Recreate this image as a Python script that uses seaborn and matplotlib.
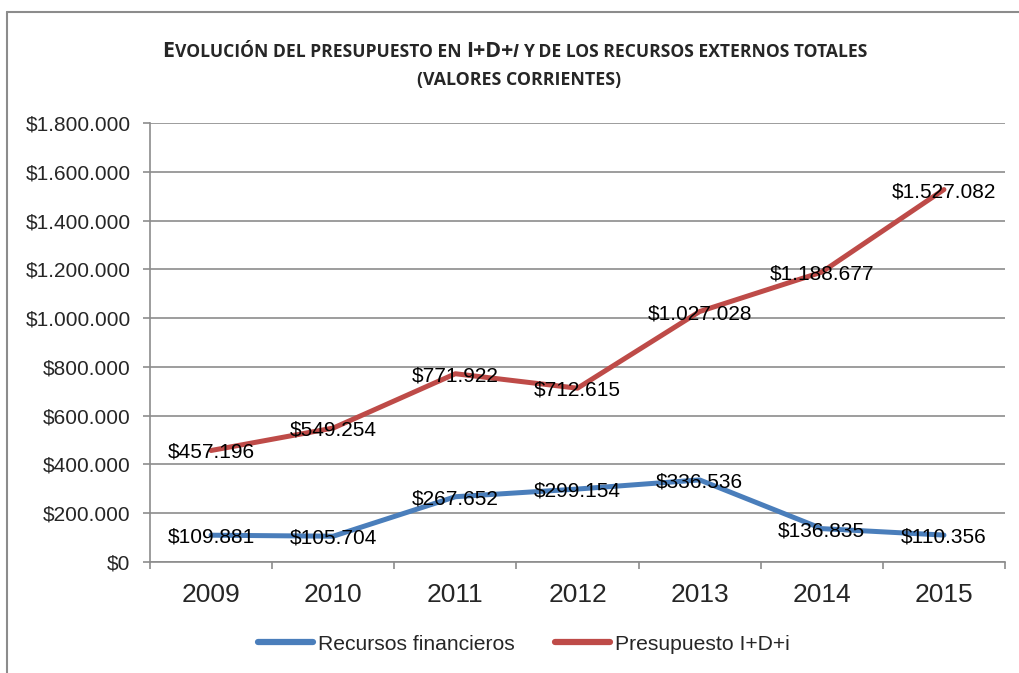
import matplotlib
matplotlib.use("Agg")
import matplotlib.pyplot as plt
import seaborn as sns
import pandas as pd
from matplotlib.lines import Line2D

# ---- data ----
years = ["2009", "2010", "2011", "2012", "2013", "2014", "2015"]
recursos = [109881, 105704, 267652, 299154, 336536, 136835, 110356]
presupuesto = [457196, 549254, 771922, 712615, 1027028, 1188677, 1527082]
series_names = ["Recursos financieros", "Presupuesto I+D+i"]
y_ticks = [0, 200000, 400000, 600000, 800000, 1000000, 1200000, 1400000, 1600000, 1800000]

BLUE = "#4A7EBB"
RED = "#BE4B48"
GRID = "#8C8C8C"

df = pd.DataFrame({
    "Año": years * 2,
    "Valor": recursos + presupuesto,
    "Serie": [series_names[0]] * len(years) + [series_names[1]] * len(years),
})

sns.set_theme(style="white")
plt.rcParams["font.family"] = ["Liberation Sans", "DejaVu Sans"]

W, H = 1019, 673
fig = plt.figure(figsize=(W / 100, H / 100), dpi=100)
ax = fig.add_axes([150 / W, 1 - 562 / H, (1005 - 150) / W, (562 - 123) / H])

sns.lineplot(data=df, x="Año", y="Valor", hue="Serie", hue_order=series_names,
             palette=[BLUE, RED], linewidth=3.6, sort=False, legend=False, ax=ax,
             solid_capstyle="round")


def fmt(v):
    return "$" + f"{v:,}".replace(",", ".")


for vals in (recursos, presupuesto):
    for i, v in enumerate(vals):
        ax.text(i, v, fmt(v), ha="center", va="center_baseline", fontsize=15,
                color="black", zorder=5)

ax.set_xlim(-0.5, len(years) - 0.5)
ax.set_ylim(0, 1800000)
ax.set_yticks(y_ticks)
ax.set_yticklabels([fmt(v) for v in y_ticks], fontsize=15)
ax.set_xticks(range(len(years)))
ax.set_xticklabels(years, fontsize=19)
ax.set_xticks([i - 0.5 for i in range(len(years) + 1)], minor=True)
ax.tick_params(axis="x", which="major", length=0, pad=15)
ax.tick_params(axis="x", which="minor", length=5, width=1.2, color=GRID, direction="out", bottom=True)
ax.tick_params(axis="y", which="major", length=5, width=1.2, color=GRID, direction="out", left=True, pad=9)
ax.set_xlabel("")
ax.set_ylabel("")
ax.grid(axis="y", color=GRID, linewidth=1.2)
ax.grid(axis="x", visible=False)
for s in ("top", "right"):
    ax.spines[s].set_visible(False)
for s in ("left", "bottom"):
    ax.spines[s].set_color(GRID)
    ax.spines[s].set_linewidth(1.2)
ax.set_axisbelow(True)

# legend
handles = [Line2D([], [], color=BLUE, linewidth=4.5, solid_capstyle="round"),
           Line2D([], [], color=RED, linewidth=4.5, solid_capstyle="round")]
fig.legend(handles, series_names, loc="center", bbox_to_anchor=(524 / W, 1 - 644 / H), ncol=2,
           frameon=False, fontsize=15.2, handlelength=2.6, handletextpad=0.24, columnspacing=1.9)

# outer frame (left and top edges)
fig.add_artist(Line2D([7 / W, 1], [1 - 12 / H, 1 - 12 / H], transform=fig.transFigure, color=GRID, lw=1.5))
fig.add_artist(Line2D([7 / W, 7 / W], [1 - 12 / H, 0], transform=fig.transFigure, color=GRID, lw=1.5))

# title in small caps, built from pieces
BIG, SMALL = 15.5, 12.6
TFONT = ["Open Sans", "DejaVu Sans"]
line1 = [("E", BIG, "normal"), ("VOLUCIÓN DEL PRESUPUESTO EN", SMALL, "normal"), (" ", SMALL, "gap"),
         ("I+D+", BIG, "normal"), ("I", SMALL, "italic"), (" ", SMALL, "gap"),
         ("Y DE LOS RECURSOS EXTERNOS TOTALES", SMALL, "normal")]
line2 = [("(VALORES CORRIENTES)", 12.8, "normal")]

renderer = fig.canvas.get_renderer()


def place_line(pieces, y_px, cx_px):
    arts = []
    widths = []
    for txt, size, style in pieces:
        if style == "gap":
            arts.append(None)
            widths.append(size * 0.36)
            continue
        t = fig.text(0, 1 - y_px / H, txt, fontsize=size, fontweight="bold",
                     fontstyle="italic" if style == "italic" else "normal",
                     family=TFONT, va="baseline", ha="left")
        bb = t.get_window_extent(renderer)
        arts.append(t)
        widths.append(bb.width)
    total = sum(widths)
    x = cx_px - total / 2
    for t, w in zip(arts, widths):
        if t is not None:
            t.set_x(x / W)
        x += w


place_line(line1, 57, 515)
place_line(line2, 85, 519)

fig.savefig("out.png", dpi=100)
